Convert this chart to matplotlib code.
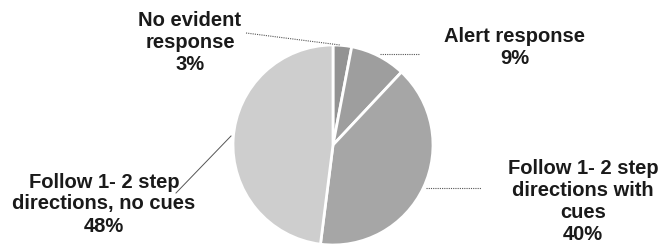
import matplotlib
matplotlib.use("Agg")
import matplotlib.pyplot as plt

labels = ["No evident\nresponse", "Alert response", "Follow 1- 2 step\ndirections with\ncues", "Follow 1- 2 step\ndirections, no cues"]
values = [3, 9, 40, 48]
colors = ["#939393", "#9e9e9e", "#a6a6a6", "#cecece"]

W, H = 660, 246
fig = plt.figure(figsize=(W / 100, H / 100), dpi=100)
ax = fig.add_axes([0, 0, 1, 1])

cx, cy, r = 333, H - 145, 100
ax.pie(values, colors=colors, startangle=90, counterclock=False,
       center=(cx, cy), radius=r, frame=True,
       wedgeprops=dict(edgecolor="white", linewidth=2))
ax.set_xlim(0, W)
ax.set_ylim(0, H)
ax.set_aspect("equal")
ax.axis("off")

font = dict(family=["Liberation Sans", "DejaVu Sans"], fontweight="bold",
            fontsize=14.5, color="#1a1a1a", ha="center", va="center",
            linespacing=1.2)

texts = [f"{labels[i]}\n{values[i]}%" for i in range(4)]
ax.text(190, H - 42, texts[0], **font)
ax.text(515, H - 47, texts[1], **font)
ax.text(583, H - 202, texts[2], **font)
ax.text(104, H - 204, texts[3], **font)

ax.plot([246, 340], [H - 33, H - 45], color="#555555", lw=0.8, ls=(0, (1, 1)))
ax.plot([380, 420], [H - 54, H - 54], color="#555555", lw=0.8, ls=(0, (1, 1)))
ax.plot([426, 481], [H - 188, H - 188], color="#555555", lw=0.8, ls=(0, (1, 1)))
ax.plot([231, 176], [H - 136, H - 193], color="#555555", lw=0.7)

fig.savefig("out.png", dpi=100, facecolor="white")
